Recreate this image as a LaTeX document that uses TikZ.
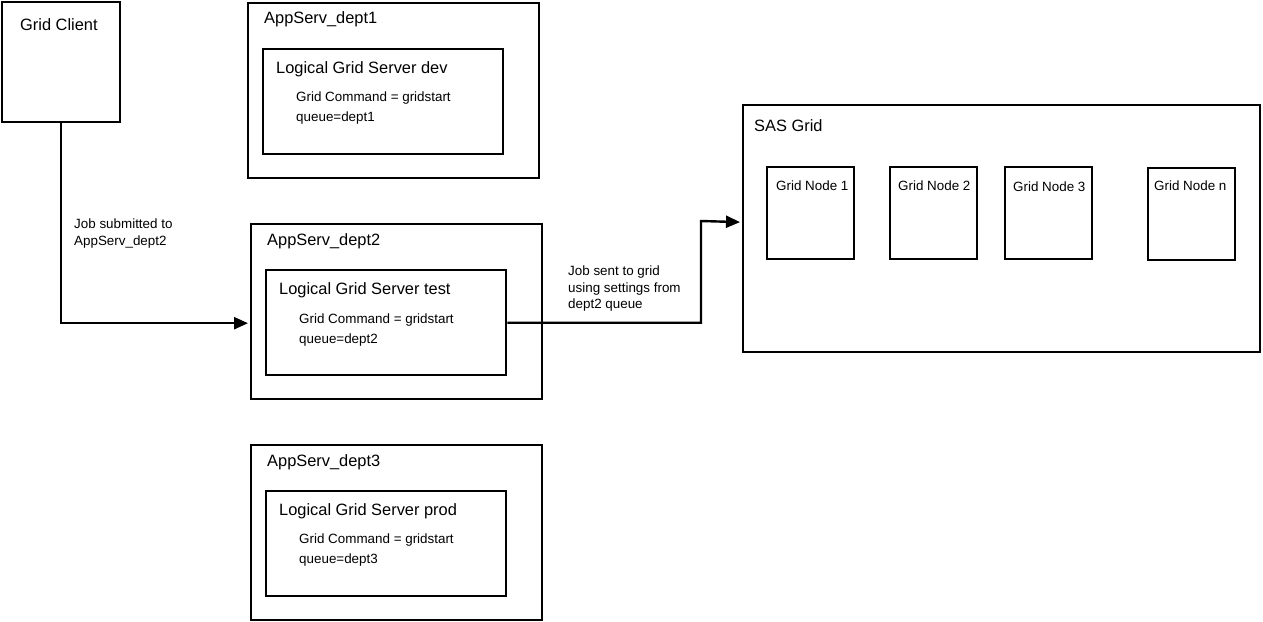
\documentclass[tikz,border=0pt]{standalone}
\usepackage{fontspec}
\setmainfont{Liberation Sans}
\usetikzlibrary{arrows.meta}
\begin{document}
\begin{tikzpicture}[x=1pt,y=-1pt,
  box/.style={draw=black,line width=2.4pt,fill=white,anchor=north west,inner sep=0pt},
  big/.style={anchor=west,inner sep=0pt,font=\fontsize{16.4}{19}\selectfont},
  small/.style={anchor=west,inner sep=0pt,font=\fontsize{13.4}{17}\selectfont},
  lbl/.style={anchor=north west,inner sep=0pt,align=left,font=\fontsize{13.4}{17}\selectfont},
  conn/.style={line width=2.4pt},
  arr/.style={conn,-{Triangle[length=14pt,width=12pt]},shorten >=2pt}]
\useasboundingbox (0,0) rectangle (1263,621);
% Grid client
\node[box,minimum width=118pt,minimum height=120pt] (client) at (1,1) {};
\node[big] (clientt) at (20,25) {Grid Client};
% dept1
\node[box,minimum width=291pt,minimum height=175pt] (d1) at (247,2) {};
\node[big] (d1t) at (264,19) {AppServ\_dept1};
\node[box,minimum width=240pt,minimum height=105pt] (i1) at (262,48) {};
\node[big] (i1t) at (276,69) {Logical Grid Server dev};
\node[small] (i1a) at (296,98) {Grid Command = gridstart};
\node[small] (i1b) at (296,118) {queue=dept1};
% dept2
\node[box,minimum width=291pt,minimum height=175pt] (d2) at (250,223) {};
\node[big] (d2t) at (267,241) {AppServ\_dept2};
\node[box,minimum width=240pt,minimum height=105pt] (i2) at (265,269) {};
\node[big] (i2t) at (279,290) {Logical Grid Server test};
\node[small] (i2a) at (299,320) {Grid Command = gridstart};
\node[small] (i2b) at (299,340) {queue=dept2};
% dept3
\node[box,minimum width=291pt,minimum height=175pt] (d3) at (250,444) {};
\node[big] (d3t) at (267,462) {AppServ\_dept3};
\node[box,minimum width=240pt,minimum height=105pt] (i3) at (265,490) {};
\node[big] (i3t) at (279,511) {Logical Grid Server prod};
\node[small] (i3a) at (299,540) {Grid Command = gridstart};
\node[small] (i3b) at (299,560) {queue=dept3};
% SAS grid
\node[box,minimum width=517pt,minimum height=247pt] (sas) at (742,104) {};
\node[big] (sast) at (754,126) {SAS Grid};
\node[box,minimum width=87pt,minimum height=92pt] (g1) at (766,166) {};
\node[small] (g1t) at (776,186) {Grid Node 1};
\node[box,minimum width=87pt,minimum height=92pt] (g2) at (889,166) {};
\node[small] (g2t) at (898,186) {Grid Node 2};
\node[box,minimum width=87pt,minimum height=92pt] (g3) at (1004,166) {};
\node[small] (g3t) at (1013,187) {Grid Node 3};
\node[box,minimum width=87pt,minimum height=92pt] (gn) at (1147,167) {};
\node[small] (gnt) at (1154,186) {Grid Node n};
% labels
\node[lbl] (l1) at (74,219) {Job submitted to\\[-0.5pt]AppServ\_dept2};
\node[lbl] (l2) at (568,266) {Job sent to grid\\[-0.5pt]using settings from\\[-0.5pt]dept2 queue};
% connectors
\draw[arr] (client.south) |- ([yshift=-11.5pt]d2.west);
\coordinate (bend) at (701,221);
\draw[arr] (i2.east) -| (bend) -- ([yshift=6.5pt]sas.west);
\end{tikzpicture}
\end{document}
